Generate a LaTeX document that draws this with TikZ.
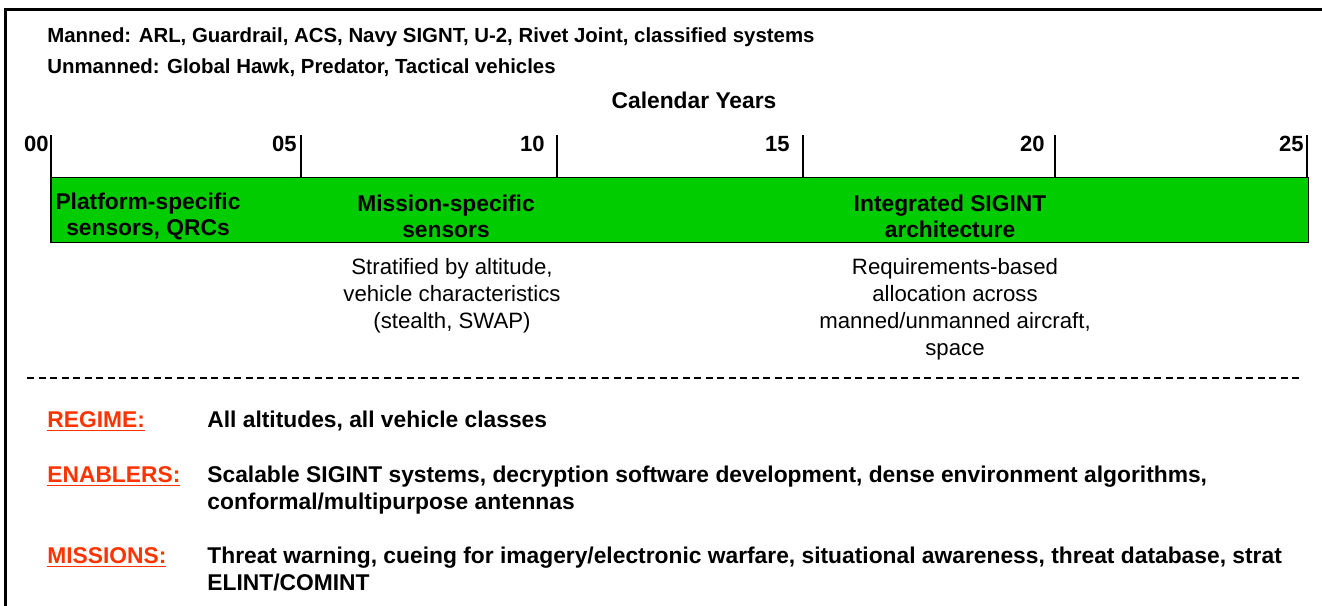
\documentclass[tikz,border=0pt]{standalone}
\usepackage{fontspec}
\setmainfont{Liberation Sans}
\definecolor{barGreen}{RGB}{0,204,0}
\definecolor{labRed}{RGB}{255,51,0}
\begin{document}
\begin{tikzpicture}[x=0.5pt,y=-0.5pt,
  toptxt/.style={font=\bfseries\fontsize{10.2}{12}\selectfont, inner sep=0, anchor=base west},
  yearlab/.style={font=\bfseries\fontsize{11}{13}\selectfont, inner sep=0, anchor=base east},
  barlab/.style={font=\bfseries\fontsize{11.4}{13}\selectfont, align=center, inner sep=0},
  note/.style={font=\fontsize{11.1}{13.5}\selectfont, align=center, inner sep=0},
  keylab/.style={font=\bfseries\fontsize{11.4}{13.5}\selectfont, text=labRed, inner sep=0, anchor=base west},
  desc/.style={font=\bfseries\fontsize{11.4}{13.5}\selectfont, inner sep=0, anchor=base west, align=left},
  tickline/.style={line width=1pt},
]
\useasboundingbox (0,0) rectangle (1322,605);
\clip (0,0) rectangle (1322,605);
% frame
\draw[line width=1.5pt] (5.5,610) -- (5.5,9.5) -- (1330,9.5);
% header
\node[toptxt] (manned) at (47,42) {Manned: ARL, Guardrail, ACS, Navy SIGNT, U-2, Rivet Joint, classified systems};
\node[toptxt] (unmanned) at (47,73) {Unmanned: Global Hawk, Predator, Tactical vehicles};
\node[font=\bfseries\fontsize{11.4}{13}\selectfont, inner sep=0, anchor=base] (cal) at (694,108) {Calendar Years};
% bar
\node[draw=black, line width=0.6pt, fill=barGreen, minimum width=1257*0.5pt, minimum height=65*0.5pt, inner sep=0, anchor=north west] (bar) at (51,177) {};
% ticks
\foreach \x/\lab/\lx [count=\i] in {51/00/49, 301/05/297, 557/10/545, 803/15/790, 1055/20/1045, 1307/25/1304}{
  \coordinate (t\i) at (\x,135);
  \draw[tickline] (t\i) -- (t\i |- bar.north);
  \node[yearlab] (y\i) at (\lx,151) {\lab};
}
\draw[tickline] (t1) -- (t1 |- bar.south);
% bar labels
\node[barlab] (p1) at (148,216) {Platform-specific\\sensors, QRCs};
\node[barlab] (p2) at (446,216) {Mission-specific\\sensors};
\node[barlab] (p3) at (950,216) {Integrated SIGINT\\architecture};
% notes
\node[note] (n1) at (452,296) {Stratified by altitude,\\vehicle characteristics\\(stealth, SWAP)};
\node[note] (n2) at (955,309) {Requirements-based\\allocation across\\manned/unmanned aircraft,\\space};
% dashed separator
\coordinate (d1) at (27,378);
\coordinate (d2) at (1303,378);
\draw[line width=1pt, dash pattern=on 3.5pt off 2.25pt] (d1) -- (d2);
% bottom
\node[keylab] (k1) at (47,427) {\underline{REGIME:}};
\node[desc] (v1) at (207,427) {All altitudes, all vehicle classes};
\node[keylab] (k2) at (47,482) {\underline{ENABLERS:}};
\node[desc] (v2) at (207,509) {Scalable SIGINT systems, decryption software development, dense environment algorithms,\\conformal/multipurpose antennas};
\node[keylab] (k3) at (47,563) {\underline{MISSIONS:}};
\node[desc] (v3) at (207,590) {Threat warning, cueing for imagery/electronic warfare, situational awareness, threat database, strat\\ELINT/COMINT};
\end{tikzpicture}
\end{document}
